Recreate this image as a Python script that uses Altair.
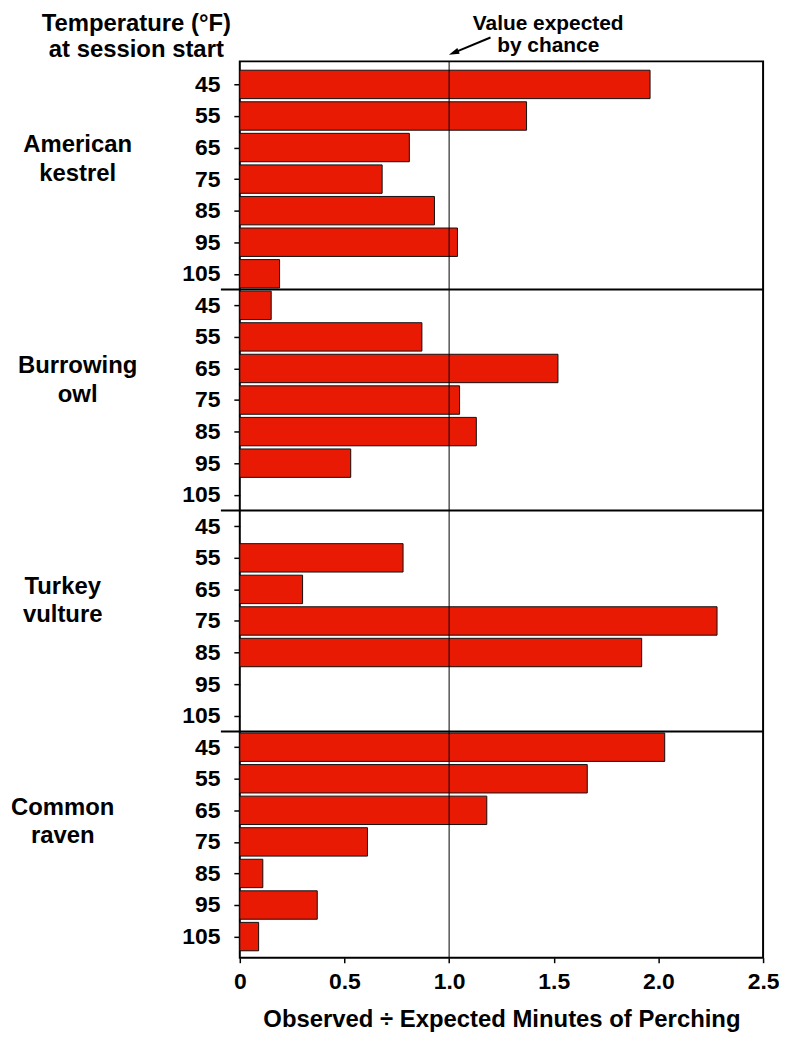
import altair as alt
import pandas as pd

species = ["American kestrel", "Burrowing owl", "Turkey vulture", "Common raven"]
temps = [45, 55, 65, 75, 85, 95, 105]
kestrel = [1.96, 1.37, 0.81, 0.68, 0.93, 1.04, 0.19]
burrowing = [0.15, 0.87, 1.52, 1.05, 1.13, 0.53, 0.0]
turkey = [0.0, 0.78, 0.30, 2.28, 1.92, 0.0, 0.0]
raven = [2.03, 1.66, 1.18, 0.61, 0.11, 0.37, 0.09]
x_ticks = [0, 0.5, 1.0, 1.5, 2.0, 2.5]
header_text = ["Temperature (°F)", "at session start"]
note_text = ["Value expected", "by chance"]
x_title = "Observed ÷ Expected Minutes of Perching"

series = [kestrel, burrowing, turkey, raven]
rows = []
for g, (sp, vals) in enumerate(zip(species, series)):
    for i, (t, v) in enumerate(zip(temps, vals)):
        rows.append({"species": sp, "group": g, "temp": t, "row": g * 7 + i, "value": v})
df = pd.DataFrame(rows)
n_rows = len(df)

sep_df = pd.DataFrame({"y": [g * 7 - 0.5 for g in range(1, len(species))]})
label_df = pd.DataFrame({"species": species, "group": list(range(len(species)))})

W, H = 526, 901
FONT = "Liberation Sans"
RED = "#E81A04"

yscale = alt.Scale(domain=[-0.73, n_rows - 1 + 0.67], reverse=True, nice=False, zero=False)
xscale = alt.Scale(domain=[0, 2.5], nice=False)

yaxis = alt.Axis(values=list(range(n_rows)), labelExpr="45 + 10 * (datum.value % 7)",
                 tickSize=6, labelPadding=14, labelFontSize=23, labelFontWeight="bold",
                 labelFont=FONT, labelColor="black", tickColor="black", tickWidth=1.5,
                 domain=False, grid=False, title=None)
xaxis = alt.Axis(values=x_ticks,
                 labelExpr="datum.value == 0 ? '0' : format(datum.value, '.1f')",
                 tickSize=5, labelPadding=8, labelFontSize=23, labelFontWeight="bold",
                 labelFont=FONT, labelColor="black", tickColor="black", tickWidth=1.5,
                 domain=False, grid=False, title=x_title, titleFontSize=24,
                 titleFont=FONT, titleFontWeight="bold", titleColor="black",
                 titlePadding=14, labelFlush=False)

base = alt.Chart(df).transform_filter("datum.value > 0").transform_calculate(
    y0="datum.row - 0.45", y1="datum.row + 0.45", zero="0")

shadow = base.mark_rect(fill="#9a9a9a", xOffset=1.5, yOffset=1.5).encode(
    x=alt.X("zero:Q", scale=xscale, axis=xaxis),
    x2="value:Q",
    y=alt.Y("y0:Q", scale=yscale, axis=yaxis),
    y2="y1:Q",
)
bars = base.mark_rect(fill=RED, stroke="#111111", strokeWidth=1).encode(
    x=alt.X("zero:Q", scale=xscale, axis=xaxis),
    x2="value:Q",
    y=alt.Y("y0:Q", scale=yscale, axis=yaxis),
    y2="y1:Q",
)

chance = alt.Chart(pd.DataFrame({"v": [1.0]})).mark_rule(color="black", strokeWidth=1).encode(
    x=alt.X("v:Q", scale=xscale, axis=xaxis))

seps = alt.Chart(sep_df).mark_rule(color="black", strokeWidth=2).encode(
    y=alt.Y("y:Q", scale=yscale, axis=yaxis),
    x=alt.value(-19), x2=alt.value(W))

def species_layer(idx, xpos):
    return alt.Chart(label_df).transform_filter(
        alt.FieldOneOfPredicate(field="group", oneOf=idx)
    ).transform_calculate(
        ly="datum.group * 7 + 2.15",
        txt="split(datum.species, ' ')",
    ).mark_text(font=FONT, fontSize=24, fontWeight="bold", color="black",
                align="center", baseline="alphabetic", lineHeight=28.5).encode(
        y=alt.Y("ly:Q", scale=yscale, axis=yaxis),
        x=alt.value(xpos),
        text="txt:N",
    )

labels1 = species_layer([0, 1], -163)
labels2 = species_layer([2, 3], -178)

header = alt.Chart(pd.DataFrame({"t": [header_text]})).mark_text(
    font=FONT, fontSize=24, fontWeight="bold", color="black", align="center",
    baseline="alphabetic", lineHeight=27).encode(
    x=alt.value(-104), y=alt.value(-31), text="t")

note = alt.Chart(pd.DataFrame({"t": [note_text]})).mark_text(
    font=FONT, fontSize=21, fontWeight="bold", color="black", align="center",
    baseline="alphabetic", lineHeight=23).encode(
    x=alt.value(310), y=alt.value(-32), text="t")

arrow_line = alt.Chart(pd.DataFrame({"a": [0]})).mark_rule(color="black", strokeWidth=2).encode(
    x=alt.value(252), y=alt.value(-24), x2=alt.value(216), y2=alt.value(-9))
arrow_head = alt.Chart(pd.DataFrame({"a": [0]})).mark_point(
    shape="M0,-1L0.6,1L-0.6,1Z", filled=True, color="black", opacity=1,
    angle=248, size=110).encode(
    x=alt.value(215), y=alt.value(-8.6))

chart = alt.layer(shadow, bars, chance, seps, labels1, labels2, header, note,
                  arrow_line, arrow_head).properties(
    width=W, height=H,
    autosize=alt.AutoSizeParams(type="none"),
    padding={"left": 233, "top": 51, "right": 16, "bottom": 72},
).configure_view(stroke="black", strokeWidth=2)

chart.save("out.html", embed_options={"renderer": "svg", "actions": False})
